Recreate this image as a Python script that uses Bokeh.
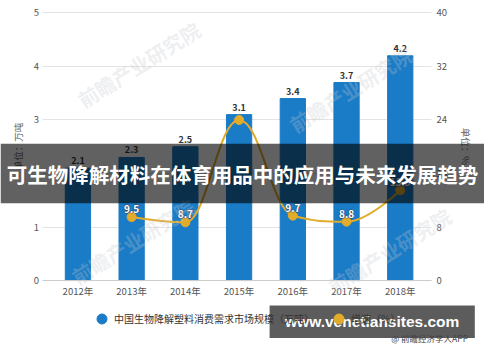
from bokeh.plotting import figure
from bokeh.models import (Range1d, LinearAxis, FixedTicker, Label, Legend, LegendItem,
                          BoxAnnotation)
from bokeh.core.properties import value
from bokeh.embed import file_html
from bokeh.resources import INLINE

years = ["2012年", "2013年", "2014年", "2015年", "2016年", "2017年", "2018年"]
market = [2.1, 2.3, 2.5, 3.1, 3.4, 3.7, 4.2]
growth_idx = [1, 2, 3, 4, 5, 6]
growth = [9.5, 8.7, 24.0, 9.7, 8.8, 13.5]
growth_labels = ["9.5", "8.7", "", "9.7", "8.8", "13.5"]
left_ticks = [0, 1, 2, 3, 4, 5]
right_ticks = [0, 8, 16, 24, 32, 40]

FONT = "Noto Sans CJK SC"
BAR = "#1a7bc6"
GOLD = "#e2ab2a"
W, H = 484, 346
SX, SY = W / 500, H / 362   # reference px -> figure px

# frame covers the whole canvas; axes are pinned inside it
p = figure(width=W, height=H, output_backend="svg", toolbar_location=None,
           x_range=Range1d(-1.441, 7.568), y_range=Range1d(-1.232, 5.232),
           min_border=0)
p.outline_line_color = None
p.extra_y_ranges = {"r": Range1d(-9.857, 41.857)}

X0, X1 = -0.65, 6.58   # plot-area extent (style)
xs = list(range(len(years)))
p.vbar(x=xs, top=market, width=0.47, color=BAR)

# smooth spline (Highcharts-like control points) through the growth points
gx, gy = growth_idx, growth
n = len(gx)
lc, rc = [], []
for i in range(n):
    if i == 0 or i == n - 1:
        lc.append((gx[i], gy[i])); rc.append((gx[i], gy[i])); continue
    lx = (1.5 * gx[i] + gx[i-1]) / 2.5; ly = (1.5 * gy[i] + gy[i-1]) / 2.5
    rx = (1.5 * gx[i] + gx[i+1]) / 2.5; ry = (1.5 * gy[i] + gy[i+1]) / 2.5
    corr = ((ry - ly) * (rx - gx[i])) / (rx - lx) + gy[i] - ry
    ly += corr; ry += corr
    if ly > gy[i-1] and ly > gy[i]:
        ly = max(gy[i-1], gy[i]); ry = 2 * gy[i] - ly
    elif ly < gy[i-1] and ly < gy[i]:
        ly = min(gy[i-1], gy[i]); ry = 2 * gy[i] - ly
    if ry > gy[i+1] and ry > gy[i]:
        ry = max(gy[i+1], gy[i]); ly = 2 * gy[i] - ry
    elif ry < gy[i+1] and ry < gy[i]:
        ry = min(gy[i+1], gy[i]); ly = 2 * gy[i] - ry
    lc.append((lx, ly)); rc.append((rx, ry))
p.bezier(x0=gx[:-1], y0=gy[:-1], x1=gx[1:], y1=gy[1:],
         cx0=[c[0] for c in rc[:-1]], cy0=[c[1] for c in rc[:-1]],
         cx1=[c[0] for c in lc[1:]], cy1=[c[1] for c in lc[1:]],
         line_color=GOLD, line_width=2, y_range_name="r")
p.scatter(gx, gy, size=9, color=GOLD, y_range_name="r")

p.text(x=xs, y=market, text=[f"{v}" for v in market], y_offset=-4,
       text_align="center", text_baseline="bottom", text_font=value(FONT),
       text_font_size="9px", text_font_style="bold", text_color="#333333")
p.text(x=gx, y=gy, text=growth_labels, y_offset=-4, y_range_name="r",
       text_align="center", text_baseline="bottom", text_font=value(FONT),
       text_font_size="10px", text_font_style="bold", text_color="white",
       text_outline_color="#33445a")
p.text(x=gx, y=gy, text=growth_labels, y_offset=-4, y_range_name="r",
       text_align="center", text_baseline="bottom", text_font=value(FONT),
       text_font_size="10px", text_font_style="bold", text_color="white")

# axes
def style_axis(ax):
    ax.major_tick_line_color = None
    ax.minor_tick_line_color = None
    ax.major_tick_out = 0
    ax.major_tick_in = 0
    ax.minor_tick_out = 0
    ax.major_label_text_font = FONT
    ax.major_label_text_font_size = "9.5px"
    ax.major_label_text_color = "#555555"
    ax.axis_label_text_font = FONT
    ax.axis_label_text_font_size = "9.5px"
    ax.axis_label_text_font_style = "normal"
    ax.axis_label_text_color = "#666666"

xa = p.xaxis[0]
style_axis(xa)
xa.ticker = FixedTicker(ticks=xs)
xa.major_label_overrides = {i: y for i, y in enumerate(years)}
xa.axis_line_color = "#cccccc"
xa.fixed_location = 0
xa.bounds = (X0, X1)
xa.major_label_standoff = 3

ya = p.yaxis[0]
style_axis(ya)
ya.ticker = FixedTicker(ticks=left_ticks)
ya.axis_line_color = None
ya.fixed_location = X0
ya.bounds = (left_ticks[0], left_ticks[-1])
ya.major_label_standoff = 4
ya.axis_label = "单位：万吨"
ya.axis_label_standoff = 5

ra = LinearAxis(y_range_name="r", ticker=FixedTicker(ticks=right_ticks))
style_axis(ra)
ra.axis_line_color = None
ra.fixed_location = X1
ra.bounds = (right_ticks[0], right_ticks[-1])
ra.major_label_standoff = 5
ra.axis_label = "单位：%"
ra.axis_label_standoff = 9
p.add_layout(ra, "right")

p.xgrid.grid_line_color = None
p.ygrid.grid_line_color = "#e3e3e3"
p.ygrid.bounds = (left_ticks[0], left_ticks[-1])
p.ygrid.cross_bounds = (X0, X1)

# faint publisher watermarks
for cx, cy in [(143, 67), (362, 93), (137, 252), (402, 262)]:
    p.add_layout(Label(x=cx * SX, y=cy * SY, x_units="canvas", y_units="canvas",
                       text="前瞻产业研究院", angle=0.56, text_align="center",
                       text_baseline="middle", text_font=FONT, text_font_size="20px",
                       text_font_style="bold", text_color="#c4c9cf", text_alpha=0.3))

# legend (proxy renderers placed outside the visible ranges)
r1 = p.scatter(x=[-100], y=[-100], size=10, color=BAR)
r2 = p.scatter(x=[-100], y=[-100], size=10, color=GOLD)
legend = Legend(items=[LegendItem(label="中国生物降解塑料消费需求市场规模（万吨）", renderers=[r1]),
                       LegendItem(label="增速（%）", renderers=[r2])],
                orientation="horizontal", location=(89, 15.5),
                label_text_font=FONT, label_text_font_size="10px", label_text_color="#333333",
                background_fill_alpha=0, border_line_color=None, spacing=12,
                glyph_width=25, glyph_height=25, label_height=12, label_standoff=0,
                padding=0, margin=0)
p.add_layout(legend, "center")

# overlays
p.add_layout(BoxAnnotation(left=0, right=W, top=150 * SY, bottom=212 * SY,
                           left_units="canvas", right_units="canvas",
                           top_units="canvas", bottom_units="canvas",
                           fill_color="black", fill_alpha=0.62, line_color=None))
title = Label(x=250 * SX, y=181.5 * SY, x_units="canvas", y_units="canvas",
              text="可生物降解材料在体育用品中的应用与未来发展趋势",
              text_align="center", text_baseline="middle", text_font=FONT,
              text_font_size="20.5px", text_font_style="bold", text_color="white")
p.add_layout(title)
p.add_layout(BoxAnnotation(left=278 * SX, right=490 * SX, top=319 * SY, bottom=353 * SY,
                           left_units="canvas", right_units="canvas",
                           top_units="canvas", bottom_units="canvas",
                           fill_color="black", fill_alpha=0.64, line_color=None))
wm = Label(x=384 * SX, y=335.5 * SY, x_units="canvas", y_units="canvas",
           text="www.venetiansites.com", text_align="center", text_baseline="middle",
           text_font="Liberation Sans", text_font_size="15.5px", text_font_style="bold",
           text_color="white")
p.add_layout(wm)
src = Label(x=483 * SX, y=353 * SY, x_units="canvas", y_units="canvas",
            text="@ 前瞻经济学人APP", text_align="right", text_baseline="middle",
            text_font=FONT, text_font_size="8.5px", text_color="#444444")
p.add_layout(src)

open("out.html", "w").write(file_html(p, INLINE))
